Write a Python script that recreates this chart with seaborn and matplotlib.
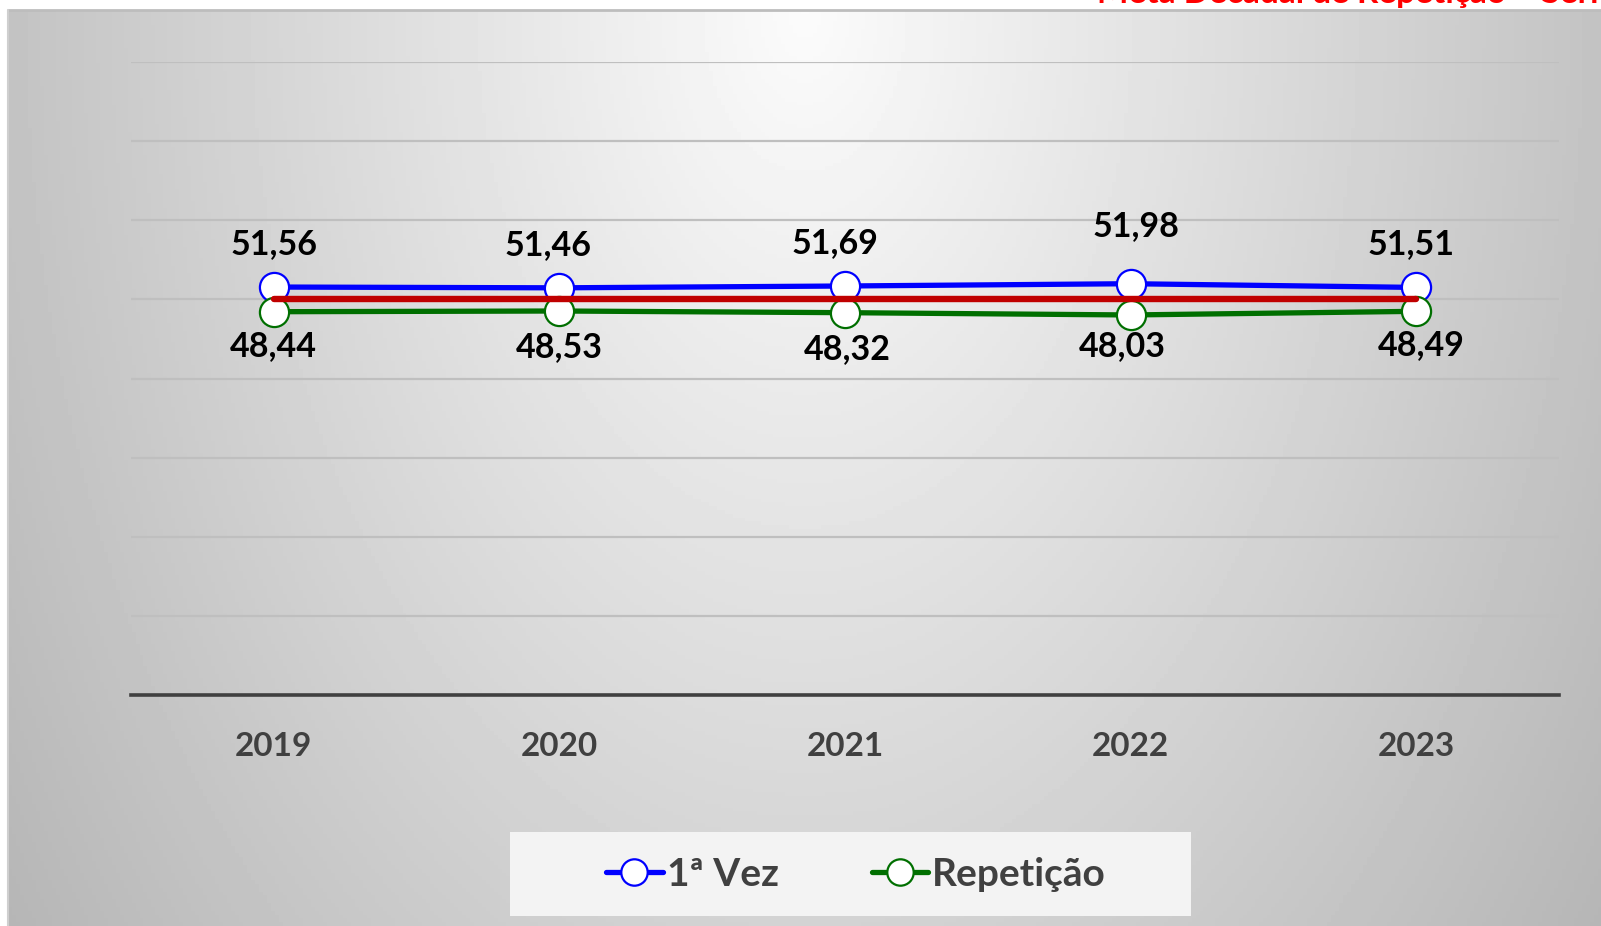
import numpy as np
import pandas as pd
import matplotlib
matplotlib.use('Agg')
import matplotlib.pyplot as plt
from matplotlib.lines import Line2D
from matplotlib.patches import Rectangle
import seaborn as sns

# chart data
anos = ['2019', '2020', '2021', '2022', '2023']
primeira_vez = [51.56, 51.46, 51.69, 51.98, 51.51]
repeticao = [48.44, 48.53, 48.32, 48.03, 48.49]
meta = [50, 50, 50, 50, 50]
titulo = 'Meta Decadal de Repetição – Série'

sns.set_style('white')
plt.rcParams['font.family'] = ['Lato', 'DejaVu Sans']
plt.rcParams['font.weight'] = 'bold'

W, H = 1601, 926
fig = plt.figure(figsize=(W / 100, H / 100), dpi=100)
fig.patch.set_facecolor('white')

# gradient background of the chart area
bg = fig.add_axes([8 / W, 0, 1 - 8 / W, 1 - 10 / H], zorder=0)
xx, yy = np.meshgrid(np.linspace(-1, 1, 400), np.linspace(0, 1, 240))
grad = 0.985 - np.sqrt((0.22 * xx) ** 2 + (0.16 * yy) ** 2)
bg.imshow(grad, cmap='gray', vmin=0, vmax=1, aspect='auto', extent=[0, 1, 1, 0])
bg.set_xlim(0, 1)
bg.set_ylim(1, 0)
bg.axis('off')
# top / left border of the chart area
fig.add_artist(Line2D([8 / W, 1], [1 - 10 / H, 1 - 10 / H], color='#bdbdbd', lw=2))
fig.add_artist(Line2D([8 / W, 8 / W], [0, 1 - 10 / H], color='#cfcfcf', lw=1.5))

# clipped red title at the very top
fig.text(1097 / W, 1 - 3 / H, titulo, color='#ff0000', fontsize=24,
         fontweight='bold', va='baseline', ha='left')

ax = fig.add_axes([131 / W, 1 - 695 / H, (1559 - 131) / W, (695 - 62) / H], zorder=2)
ax.patch.set_alpha(0)

df = pd.DataFrame({'ano': range(len(anos)), '1ª Vez': primeira_vez,
                   'Repetição': repeticao, 'Meta': meta})

mk = dict(marker='o', markersize=21, markerfacecolor='white', markeredgewidth=1.6)
sns.lineplot(data=df, x='ano', y='1ª Vez', ax=ax, color='#0000ff', lw=3.8,
             markeredgecolor='#0000ff', zorder=3, **mk)
sns.lineplot(data=df, x='ano', y='Repetição', ax=ax, color='#006f00', lw=3.8,
             markeredgecolor='#006f00', zorder=3, **mk)
sns.lineplot(data=df, x='ano', y='Meta', ax=ax, color='#c00000', lw=4.6,
             solid_capstyle='round', zorder=4)

# data labels
dx_top = [0, -11, -10, 5, -5]
dy_top = [43, 43, 43, 58, 43]
dx_bot = [0, 0, 2, -8, 5]
dy_bot = [34, 36, 36, 31, 34]
for i, v in enumerate(primeira_vez):
    ax.annotate(f'{v:.2f}'.replace('.', ','), (i, v), xytext=(dx_top[i], dy_top[i]),
                textcoords='offset pixels', ha='center', va='center',
                fontsize=24.5, fontweight='bold', color='black')
for i, v in enumerate(repeticao):
    ax.annotate(f'{v:.2f}'.replace('.', ','), (i, v), xytext=(dx_bot[i], -dy_bot[i]),
                textcoords='offset pixels', ha='center', va='center',
                fontsize=24.5, fontweight='bold', color='black')

ax.set_xlim(-0.5, len(anos) - 0.5)
ax.set_ylim(0, 80)
ax.set_yticks(np.arange(0, 81, 10))
ax.set_yticklabels([])
ax.yaxis.grid(True, color='#bfbfbf', lw=1.6)
ax.xaxis.grid(False)
ax.set_xticks(range(len(anos)))
ax.set_xticklabels(anos, fontsize=24, fontweight='bold', color='#404040')
ax.tick_params(axis='x', length=0, pad=27)
ax.tick_params(axis='y', length=0)
ax.set_xlabel('')
ax.set_ylabel('')
for s in ['top', 'right', 'left']:
    ax.spines[s].set_visible(False)
ax.spines['bottom'].set_color('#404040')
ax.spines['bottom'].set_linewidth(2.6)
ax.spines['bottom'].set_zorder(1)

# legend box
fig.add_artist(Rectangle((510 / W, 1 - 916 / H), (1191 - 510) / W, (916 - 832) / H,
                         transform=fig.transFigure, facecolor='#f3f3f3',
                         edgecolor='none', zorder=1))
handles = [
    Line2D([0], [0], color='#0000ff', lw=3.8, marker='o', markersize=19,
           markerfacecolor='white', markeredgecolor='#0000ff', markeredgewidth=1.6),
    Line2D([0], [0], color='#006f00', lw=3.8, marker='o', markersize=19,
           markerfacecolor='white', markeredgecolor='#006f00', markeredgewidth=1.6),
]
leg = fig.legend(handles, ['1ª Vez', 'Repetição'], loc='center',
                 bbox_to_anchor=(856 / W, 1 - 874 / H), ncol=2, frameon=False,
                 handlelength=1.45, handletextpad=0.1, columnspacing=2.4,
                 prop={'size': 28, 'weight': 'bold'})
for t in leg.get_texts():
    t.set_color('#404040')
leg.set_zorder(5)

fig.savefig('out.png', dpi=100)
